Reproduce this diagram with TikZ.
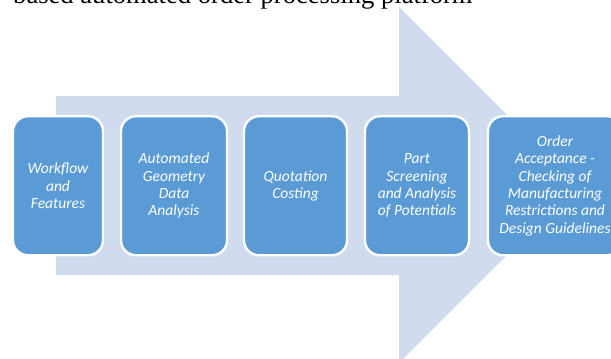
\documentclass[tikz,border=0pt]{standalone}
\usepackage{fontspec}
\newfontfamily\boxfont{Carlito}
\newfontfamily\captionfont{Liberation Serif}
\definecolor{arrowfill}{RGB}{208,220,238}
\definecolor{stepfill}{RGB}{91,155,213}
\begin{document}
\begin{tikzpicture}[x=1pt,y=-1pt,
  stepbox/.style={draw=white, line width=2.4pt, fill=stepfill,
    rounded corners=15pt, minimum height=139pt, inner sep=0pt,
    text=white, align=center,
    font=\boxfont\itshape\fontsize{15.5}{17.4}\selectfont},
  captiontext/.style={anchor=base west, inner sep=0pt,
    font=\captionfont\fontsize{26.6}{30}\selectfont},
]
\useasboundingbox (0,0) rectangle (611,359);
\begin{scope}
\clip (0,0) rectangle (611,359);
% heading line above the figure
\node[captiontext] (caption) at (13,3) {based automated order processing platform};
% large block arrow behind the steps
\fill[arrowfill] (56,96) -- (399,96) -- (399,7) -- (577,185) -- (399,363)
  -- (399,275) -- (56,275) -- cycle;
% process steps
\node[stepbox, minimum width=90pt]  (s1) at (58,185.75)    {Workflow\\and\\Features};
\node[stepbox, minimum width=106pt] (s2) at (174,185.75)   {Automated\\Geometry\\Data\\Analysis};
\node[stepbox, minimum width=103pt] (s3) at (295.5,185.75) {Quotation\\Costing};
\node[stepbox, minimum width=104pt] (s4) at (417,185.75)   {Part\\Screening\\and Analysis\\of Potentials};
\node[stepbox, minimum width=134pt] (s5) at (555,185.75)   {Order\\Acceptance -\\Checking of\\Manufacturing\\Restrictions and\\Design Guidelines};
\end{scope}
\end{tikzpicture}
\end{document}
